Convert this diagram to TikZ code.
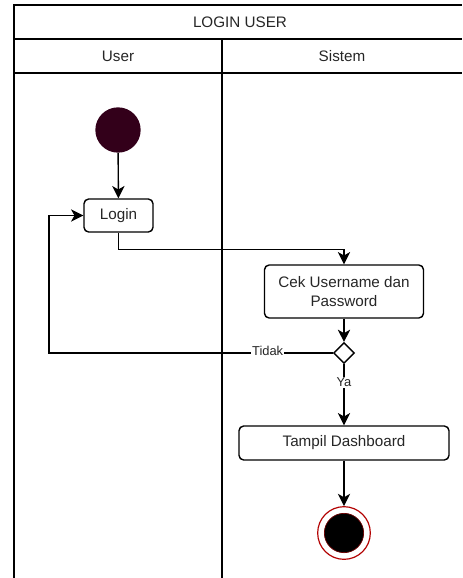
\documentclass[tikz,border=0pt]{standalone}
\usepackage{fontspec}
\setmainfont{Liberation Sans}
\usetikzlibrary{arrows.meta,shapes.geometric,calc}
\definecolor{startfill}{HTML}{33001A}
\definecolor{endring}{HTML}{B20000}
\tikzset{
    action/.style = {draw, rectangle, rounded corners=4pt, line width=1.2pt,
        text=black!85, align=center},
    decision/.style = {draw, diamond, line width=1.2pt,
        minimum size=0.62cm, inner sep=0pt},
    arrow/.style = {draw, line width=1.2pt, -{Stealth[length=10.5pt,width=10.5pt,inset=3pt]}},
    lane/.style = {line width=1.4pt},
    startnode/.style = {circle, fill=startfill, minimum size=1.36cm},
    endnode/.style = {circle, draw=endring, line width=1pt, minimum size=1.58cm},
    guard/.style = {fill=white, inner sep=1pt, text=black!85,
        font=\fontsize{11}{13}\selectfont}
}

\begin{document}
\begin{tikzpicture}[x=0.03cm, y=-0.03cm, font=\fontsize{13}{16}\selectfont]
    \useasboundingbox (0,0) rectangle (462,578);
    % swimlanes
    \draw[lane] (14,578) -- (14,5) -- (462,5);
    \draw[lane] (14,39) -- (462,39);
    \draw[lane] (14,73) -- (462,73);
    \draw[lane] (222,39) -- (222,578);
    \node[text=black!85] (title) at (240,22) {LOGIN USER};
    \node[text=black!85] (user) at (118,56) {User};
    \node[text=black!85] (sistem) at (342,56) {Sistem};

    \node[startnode] (start) at (118,130) {};
    \node[action, minimum width=2.07cm, minimum height=0.99cm] (login) at (118.5,215.5) {Login};
    \node[action, minimum width=4.77cm, minimum height=1.59cm] (cek) at (344,291.5) {Cek Username dan\\Password};
    \node[decision] (dec) at (344,353) {};
    \node[action, minimum width=6.3cm, minimum height=1.02cm] (tampil) at (344,443) {Tampil Dashboard};
    \node[endnode] (stop) at (344,533) {};
    \fill[black, draw=endring!60!black, line width=0.6pt] (stop) circle (0.59cm);
    \coordinate (back) at (49,353);

    \draw[arrow] (start) -- (login);
    \draw[arrow] (login.south) -- ++(0,17) -| (cek.north);
    \draw[arrow] (cek) -- (dec);
    \draw[arrow] (dec.west) -- node[guard, pos=0.23, yshift=2pt] {Tidak} (back) |- (login.west);
    \draw[arrow] (dec.south) -- node[guard, pos=0.3] {Ya} (tampil.north);
    \draw[arrow] (tampil) -- (stop);
\end{tikzpicture}
\end{document}
